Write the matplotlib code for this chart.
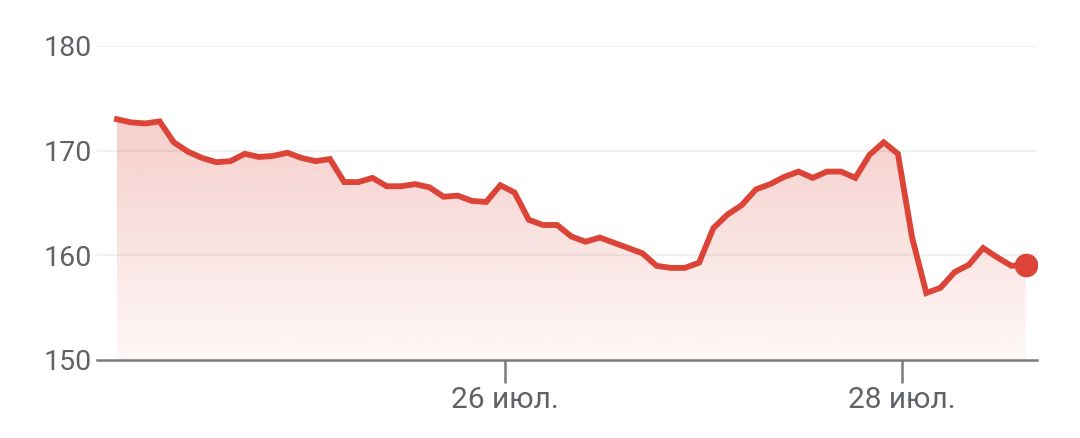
import numpy as np
import pandas as pd
import matplotlib
matplotlib.use("Agg")
import matplotlib.pyplot as plt
import matplotlib.dates as mdates
from matplotlib.patches import Polygon

# ---- data ----
prices = [173.0, 172.7, 172.6, 172.8, 170.8, 169.9, 169.3, 168.9, 169.0, 169.7,
          169.4, 169.5, 169.8, 169.3, 169.0, 169.2, 167.0, 167.0, 167.4, 166.6,
          166.6, 166.8, 166.5, 165.6, 165.7, 165.2, 165.1, 166.7, 166.0, 163.4,
          162.9, 162.9, 161.8, 161.3, 161.7, 161.2, 160.7, 160.2, 159.0, 158.8,
          158.8, 159.3, 162.6, 163.9, 164.8, 166.3, 166.8, 167.5, 168.0, 167.4,
          168.0, 168.0, 167.4, 169.6, 170.8, 169.7, 161.7, 156.4, 156.9, 158.4,
          159.1, 160.7, 159.8, 159.0, 159.1]
times = pd.date_range("2024-07-24 01:05", periods=len(prices), freq="103min")
tick_dates = pd.to_datetime(["2024-07-26", "2024-07-28"])
tick_labels = ["26 июл.", "28 июл."]
y_ticks = [150, 160, 170, 180]

red = "#db4437"
gray_text = "#5f6368"

plt.rcParams['font.family'] = ['Roboto', 'DejaVu Sans']

fig = plt.figure(figsize=(10.8, 4.38), dpi=100)
ax = fig.add_axes([97/1080, 1 - 360/438, (1037-97)/1080, (360-46)/438])

x = mdates.date2num(times)
y = np.array(prices)

xmin = mdates.date2num(pd.Timestamp("2024-07-23 22:40"))
xmax = mdates.date2num(pd.Timestamp("2024-07-28 16:19"))
ax.set_xlim(xmin, xmax)
ax.set_ylim(150, 180)

# gradient fill under the curve
verts = np.column_stack([np.r_[x[0], x, x[-1]], np.r_[150, y, 150]])
poly = Polygon(verts, closed=True, facecolor='none', edgecolor='none')
ax.add_patch(poly)
grad = np.zeros((256, 1, 4))
rgb = matplotlib.colors.to_rgb(red)
grad[:, 0, 0:3] = rgb
alphas = np.linspace(0.04, 0.27, 256)
grad[:, 0, 3] = alphas
im = ax.imshow(grad, extent=[x[0], x[-1], 150, 174], origin='lower',
               aspect='auto', zorder=1, interpolation='bicubic')
im.set_clip_path(poly)

# gridlines
for v in y_ticks[1:]:
    ax.axhline(v, color="#f1f1f1", lw=1.6, zorder=0.5)

ax.plot(x, y, color=red, lw=4.2, zorder=3, solid_joinstyle='miter')
ax.plot(x[-1], y[-1], 'o', color=red, ms=16, zorder=4)

for s in ['top', 'right', 'left']:
    ax.spines[s].set_visible(False)
ax.spines['bottom'].set_color("#7a7a7a")
ax.spines['bottom'].set_linewidth(1.8)
ax.spines['bottom'].set_zorder(5)

ax.set_xticks(mdates.date2num(tick_dates))
ax.set_xticklabels(tick_labels)
ax.set_yticks(y_ticks)
ax.set_yticklabels([str(v) for v in y_ticks])
ax.tick_params(axis='x', length=16.5, width=1.8, color="#7a7a7a", pad=2,
               labelsize=21.5, labelcolor=gray_text, direction='out')
ax.tick_params(axis='y', length=0, pad=4, labelsize=20.5, labelcolor=gray_text)

fig.savefig("out.png", dpi=100, facecolor='white')
